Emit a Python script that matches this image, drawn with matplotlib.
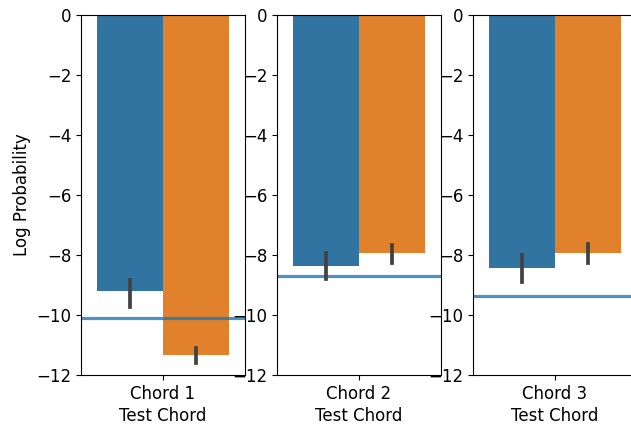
import matplotlib.pyplot as plt
import numpy as np

chords = ["Chord 1", "Chord 2", "Chord 3"]
# two hue groups per chord (blue, orange)
means_blue = [-9.2, -8.37, -8.43]
means_orange = [-11.33, -7.93, -7.93]
ci_blue = [(-8.83, -9.73), (-7.93, -8.8), (-8.0, -8.9)]
ci_orange = [(-11.1, -11.6), (-7.67, -8.27), (-7.63, -8.27)]
baseline = [-10.1, -8.7, -9.37]

colors = ["#3274a1", "#e1812c"]

plt.rcParams["font.size"] = 12

fig = plt.figure(figsize=(6.31, 4.25), dpi=100)
lefts = [81, 277, 473]
for i in range(3):
    ax = fig.add_axes([lefts[i] / 631, 50 / 425, 164 / 631, 360 / 425])
    vals = [means_blue[i], means_orange[i]]
    cis = [ci_blue[i], ci_orange[i]]
    xs = [-0.2, 0.2]
    for j in range(2):
        ax.bar(xs[j], vals[j], width=0.4, color=colors[j], zorder=1)
        ax.plot([xs[j], xs[j]], cis[j], color=".26", lw=2.7, zorder=3)
    ax.axhline(baseline[i], color="#1f77b4", lw=2.3, alpha=0.8, zorder=2)
    ax.set_xlim(-0.5, 0.5)
    ax.set_ylim(-12, 0)
    ax.set_xticks([0])
    ax.set_xticklabels([chords[i]])
    ax.set_xlabel("Test Chord", labelpad=3)
    if i == 0:
        ax.set_ylabel("Log Probability")

fig.savefig("out.png", dpi=100)
